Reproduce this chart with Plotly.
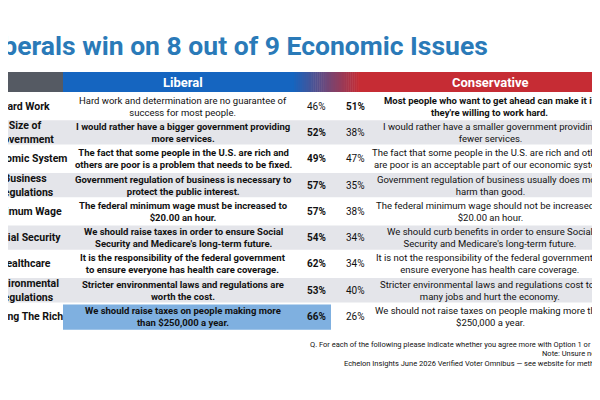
import plotly.graph_objects as go

# data
issues = ["Hard Work", "Size of<br>Government", "Economic System", "Business<br>Regulations",
          "Minimum Wage", "Social Security", "Healthcare", "Environmental<br>Regulations",
          "Taxing The Rich"]
liberal_text = [
    "Hard work and determination are no guarantee of<br>success for most people.",
    "I would rather have a bigger government providing<br>more services.",
    "The fact that some people in the U.S. are rich and<br>others are poor is a problem that needs to be fixed.",
    "Government regulation of business is necessary to<br>protect the public interest.",
    "The federal minimum wage must be increased to<br>$20.00 an hour.",
    "We should raise taxes in order to ensure Social<br>Security and Medicare's long-term future.",
    "It is the responsibility of the federal government<br>to ensure everyone has health care coverage.",
    "Stricter environmental laws and regulations are<br>worth the cost.",
    "We should raise taxes on people making more<br>than $250,000 a year.",
]
conservative_text = [
    "Most people who want to get ahead can make it if<br>they're willing to work hard.",
    "I would rather have a smaller government providing<br>fewer services.",
    "The fact that some people in the U.S. are rich and others<br>are poor is an acceptable part of our economic system.",
    "Government regulation of business usually does more<br>harm than good.",
    "The federal minimum wage should not be increased to<br>$20.00 an hour.",
    "We should curb benefits in order to ensure Social<br>Security and Medicare's long-term future.",
    "It is not the responsibility of the federal government to<br>ensure everyone has health care coverage.",
    "Stricter environmental laws and regulations cost too<br>many jobs and hurt the economy.",
    "We should not raise taxes on people making more than<br>$250,000 a year.",
]
liberal_pct = [46, 52, 49, 57, 57, 54, 62, 53, 66]
conservative_pct = [51, 38, 47, 35, 38, 34, 34, 40, 26]

FONT = "Liberation Sans Narrow, Roboto, sans-serif"
fig = go.Figure()
shapes = []
ann = []

top, pitch = 93, 26.3
# header
shapes.append(dict(type="rect", x0=-5, x1=63, y0=72, y1=92, fillcolor="#555a63", line_width=0))
shapes.append(dict(type="rect", x0=63, x1=292, y0=72, y1=92, fillcolor="#1565c0", line_width=0))
shapes.append(dict(type="rect", x0=360, x1=615, y0=72, y1=92, fillcolor="#c62c34", line_width=0))
n = 35
for k in range(n):
    t = k / (n - 1)
    r = int(0x15 + t * (0xc6 - 0x15)); g = int(0x65 + t * (0x2c - 0x65)); b = int(0xc0 + t * (0x34 - 0xc0))
    x0 = 292 + k * 68 / n
    shapes.append(dict(type="rect", x0=x0, x1=x0 + 68 / n + 0.5, y0=72, y1=92,
                       fillcolor=f"rgb({r},{g},{b})", line_width=0))
ann.append(dict(x=183, y=82, text="<b>Liberal</b>", font=dict(color="white", size=13)))
ann.append(dict(x=490, y=82, text="<b>Conservative</b>", font=dict(color="white", size=13)))

for i in range(len(issues)):
    y0 = top + i * pitch
    yc = y0 + pitch / 2
    if i % 2 == 1:
        shapes.append(dict(type="rect", x0=-5, x1=615, y0=y0 + 1, y1=y0 + pitch - 1,
                           fillcolor="#e4e5ea", line_width=0))
    if i == len(issues) - 1:
        shapes.append(dict(type="rect", x0=63, x1=331, y0=y0 + 1, y1=y0 + pitch,
                           fillcolor="#7fb0e0", line_width=0))
    lib_win = liberal_pct[i] > conservative_pct[i]
    lb = (lambda s, w: f"<b>{s}</b>" if w else s)
    ann.append(dict(x=25, y=yc, text=f"<b>{issues[i]}</b>", font=dict(size=10.5)))
    ann.append(dict(x=183, y=yc, text=lb(liberal_text[i], lib_win), font=dict(size=9.5)))
    ann.append(dict(x=316, y=yc, text=lb(f"{liberal_pct[i]}%", lib_win), font=dict(size=10)))
    ann.append(dict(x=355, y=yc, text=lb(f"{conservative_pct[i]}%", not lib_win), font=dict(size=10)))
    ann.append(dict(x=490, y=yc, text=lb(conservative_text[i], not lib_win), font=dict(size=9.5)))

ann.append(dict(x=490, y=45, xanchor="right", text="<b>Liberals win on 8 out of 9 Economic Issues</b>",
                font=dict(size=26.5, color="#2a7ab8")))
foot = ["Q. For each of the following please indicate whether you agree more with Option 1 or Option 2.",
        "Note: Unsure not shown.",
        "Echelon Insights June 2026 Verified Voter Omnibus \u2014 see website for methodology"]
foot_x = [308, 540, 342]
for j, s in enumerate(foot):
    ann.append(dict(x=foot_x[j], y=344 + j * 9.5, xanchor="left", text=s, font=dict(size=7.5)))

for a in ann:
    a.update(xref="x", yref="y", showarrow=False)
    a.setdefault("xanchor", "center")
    a["font"].setdefault("color", "#111")
    a["font"]["family"] = FONT

# page body adds ~8px offset, so the range is shifted to compensate
fig.update_layout(width=600, height=400, margin=dict(l=0, r=0, t=0, b=0),
                  plot_bgcolor="white", paper_bgcolor="white", shapes=shapes, annotations=ann,
                  xaxis=dict(range=[8, 608], visible=False),
                  yaxis=dict(range=[408, 8], visible=False), showlegend=False)
fig.write_html("out.html")
